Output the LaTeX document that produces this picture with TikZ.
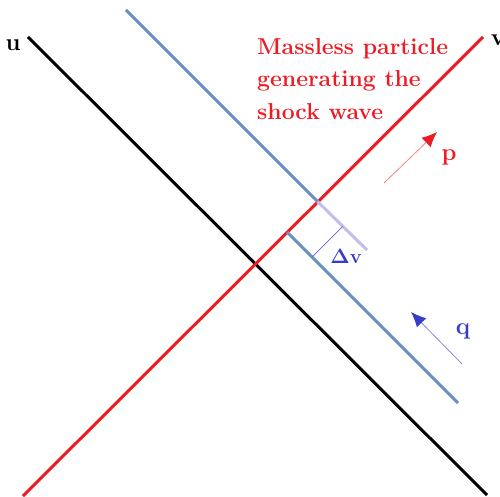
\documentclass[tikz,border=0pt]{standalone}
\usepackage{xcolor}
\usepackage{tikz}
\usetikzlibrary{arrows.meta, positioning, calc}
\definecolor{shockred}{RGB}{237,28,36}
\definecolor{shockblue}{RGB}{105,145,195}
\definecolor{lavender}{RGB}{195,190,232}
\definecolor{momblue}{RGB}{55,60,205}

\begin{document}
\begin{tikzpicture}[
    x=1pt, y=-1pt,
    % 线条样式
    worldline/.style={line width=3pt},
    wavefront/.style={line width=3pt, draw=shockblue},
    % 标签样式
    axislabel/.style={font=\fontsize{24}{28}\selectfont\bfseries, inner sep=0pt},
    momentum/.style={line width=0.8pt},
]
\useasboundingbox (0,0) rectangle (500,497);

% 坐标点
\coordinate (u0) at (28,37);
\coordinate (u1) at (487,495);
\coordinate (v0) at (23,496);
\coordinate (v1) at (483,37);
\coordinate (w0) at (126,10);
\coordinate (w1) at (317.5,201.5);
\coordinate (w2) at (367,250);
\coordinate (s0) at (287,232);
\coordinate (s1) at (458,403);
\coordinate (d0) at (312,257);
\coordinate (d1) at (342.5,226.5);

% 光锥坐标 u, v
\draw[worldline, black] (u0) -- (u1);
\draw[worldline, shockred] (v0) -- (v1);

% 激波前沿
\draw[wavefront] (w0) -- (w1);
\draw[wavefront, draw=lavender] (w1) -- (w2);
\draw[wavefront] (s0) -- (s1);
\draw[momblue!80, line width=0.7pt] (d0) -- (d1);

% 动量箭头
\coordinate (p0) at (384,183);
\coordinate (p1) at (437,132);
\coordinate (q0) at (462,364);
\coordinate (q1) at (411,312);
\draw[momentum, draw=shockred!55, -{Latex[length=15pt, width=13pt, color=shockred]}] (p0) -- (p1);
\draw[momentum, draw=momblue!60, -{Latex[length=15pt, width=13pt, color=momblue]}] (q0) -- (q1);

% 标签
\node[axislabel] (ulabel) at (13,45) {u};
\node[axislabel] (vlabel) at (498,40) {v};
\node[axislabel, text=shockred] (plabel) at (449,157) {p};
\node[axislabel, text=momblue] (qlabel) at (463,331) {q};
\node[axislabel, text=momblue, font=\fontsize{20}{24}\selectfont\bfseries] (dvlabel) at (346,256) {$\mathbf{\Delta}$v};
\node[inner sep=0pt, anchor=north west, align=left, text=shockred,
      font=\fontsize{23}{32.5}\selectfont\bfseries] (particle) at (257,38)
    {Massless particle\\generating the\\shock wave};

\end{tikzpicture}
\end{document}
